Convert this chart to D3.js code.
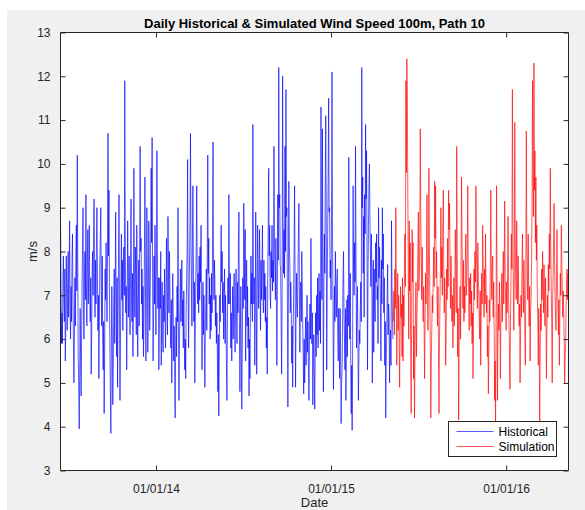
<!DOCTYPE html>
<html>
<head>
<meta charset="utf-8">
<script src="https://cdn.jsdelivr.net/npm/d3@7"></script>
<style>
  html, body { margin: 0; padding: 0; background: #ffffff; }
  svg { display: block; }
  text { font-family: "Liberation Sans", Arial, Helvetica, sans-serif; }
</style>
</head>
<body>
<script>
// Daily wind speed at 100 m, path 10 (m/s)
const histStart = "2013-06-16";
const historical = [
8.8,7.4,5.9,6.6,5.9,7.3,7.9,6.8,6.4,7.6,5.5,6.3,7.9,7.0,6.2,7.2,8.0,6.5,7.4,8.7,6.6,
6.0,7.2,6.4,7.8,8.4,6.9,5.9,5.0,6.1,7.4,6.3,7.9,8.6,7.1,10.2,7.6,5.6,4.9,3.95,5.2,6.7,
5.5,4.7,6.0,7.3,8.2,9.0,6.6,6.0,7.4,8.0,6.9,9.3,7.2,6.3,7.8,8.5,6.8,7.6,8.6,7.1,6.4,
7.4,5.2,6.1,7.6,8.0,7.0,8.4,9.2,7.2,6.5,7.8,6.8,8.3,9.0,7.5,6.2,7.0,5.1,6.4,7.7,8.3,
9.0,7.1,6.3,7.9,6.0,5.3,6.4,4.3,5.6,7.6,6.9,8.2,7.3,6.4,8.0,10.7,7.9,9.4,7.2,5.8,4.7,
3.85,5.8,7.2,6.1,4.5,5.4,6.8,7.6,5.9,7.1,8.9,6.8,5.6,7.4,4.9,6.5,8.0,9.3,6.7,4.6,6.0,
7.3,8.4,6.9,7.8,6.2,7.5,8.1,7.0,11.9,8.4,6.6,7.2,5.3,6.8,8.7,7.4,6.5,7.9,7.0,6.1,7.6,
9.2,7.0,6.4,7.5,5.6,6.6,9.9,7.2,6.5,8.1,7.3,6.1,8.6,7.0,5.6,6.9,7.8,6.3,8.3,10.4,8.0,
8.3,6.8,7.6,6.0,7.2,5.6,6.4,8.0,9.7,7.4,5.5,6.9,9.0,7.6,5.7,6.6,8.7,7.9,6.2,7.1,8.4,
9.9,8.2,10.6,7.4,5.5,6.5,7.9,6.8,8.6,7.2,6.1,7.7,10.3,8.0,6.7,7.4,5.3,6.2,7.4,6.7,8.0,
5.4,6.6,7.3,6.0,5.7,7.0,6.4,7.6,6.5,5.8,7.2,8.3,6.9,6.1,8.8,7.7,6.6,8.0,7.3,6.2,5.8,
6.9,5.0,6.2,7.5,6.6,5.5,6.3,5.2,4.2,5.8,6.5,5.6,7.2,6.4,9.0,6.0,4.6,5.9,6.8,7.6,6.4,
7.0,7.8,6.3,6.9,5.8,7.1,6.2,5.3,6.0,5.1,6.7,7.4,8.0,10.1,7.2,5.8,6.9,7.8,8.7,10.7,8.2,
7.1,6.3,8.2,9.5,7.8,6.4,7.3,5.0,6.4,7.2,8.1,9.5,7.6,6.8,7.5,6.6,7.9,6.9,8.1,7.3,8.6,
6.7,5.3,6.4,7.3,6.1,7.0,5.8,4.9,6.3,6.9,7.6,6.2,8.1,10.2,7.5,8.3,6.8,7.4,6.0,7.0,6.2,
7.5,6.6,8.3,10.5,7.6,6.9,7.8,7.2,6.3,7.0,5.9,6.6,5.6,4.8,6.1,4.25,5.7,7.0,6.4,7.7,8.6,
7.3,8.0,6.6,7.3,6.0,6.8,7.6,5.9,7.0,6.2,5.4,4.6,6.5,7.4,6.8,9.3,7.7,6.8,7.5,5.8,6.6,
5.5,6.4,7.2,6.0,6.9,7.5,6.2,5.7,6.8,7.6,6.5,5.9,7.3,6.6,8.2,8.9,6.4,4.8,6.2,7.2,5.6,
4.4,5.9,7.4,6.7,9.1,8.2,6.9,8.5,5.5,6.8,7.8,6.3,7.2,5.8,6.5,4.7,6.0,5.1,6.9,7.9,6.8,
7.5,6.4,10.9,7.7,6.8,7.4,5.4,6.6,8.9,7.0,5.2,6.9,8.6,7.6,6.7,7.4,8.5,7.1,6.2,7.8,6.9,
7.6,8.6,7.0,6.6,7.8,6.9,7.5,6.4,7.2,5.8,6.5,5.2,7.4,8.6,9.9,7.9,8.6,7.0,6.7,8.0,7.4,
8.6,7.1,7.8,7.3,10.4,8.2,7.6,6.9,8.3,7.0,5.4,6.8,9.3,7.8,12.2,9.0,9.3,7.7,7.6,6.3,5.2,
7.0,12.0,8.7,7.5,8.5,7.4,10.4,8.0,11.7,8.8,9.0,6.9,4.45,6.8,9.6,8.1,7.8,6.6,7.3,6.8,5.45,
6.3,4.9,6.2,7.0,8.1,9.5,7.4,4.9,6.5,7.5,6.8,6.5,7.6,8.4,9.1,7.2,5.7,6.9,7.3,6.4,8.0,
7.2,6.3,5.6,4.75,6.0,5.0,5.8,6.5,5.4,6.2,7.0,5.7,6.4,5.2,4.6,5.9,6.8,6.0,8.3,7.1,5.9,
6.6,4.5,5.6,6.1,5.2,4.4,5.8,6.6,5.6,7.0,6.1,7.4,5.8,6.7,7.5,6.2,7.1,5.9,11.3,8.2,6.9,
10.8,7.6,4.8,6.9,8.4,7.5,9.6,11.1,8.7,5.3,7.2,8.5,9.7,11.5,8.9,9.0,7.4,7.8,6.9,8.8,12.1,
8.5,6.8,4.85,6.0,7.2,6.4,8.0,7.0,6.5,7.3,7.6,6.1,5.5,6.7,6.0,5.1,6.7,5.6,4.07,5.0,5.3,
6.2,7.4,8.0,6.6,6.0,5.3,6.7,4.6,5.8,6.9,5.6,7.0,6.3,10.15,7.8,6.0,7.5,5.6,4.3,5.4,3.92,
5.8,9.5,7.6,7.0,8.2,7.3,10.4,8.0,5.8,6.5,7.2,6.0,4.6,5.5,6.2,5.9,6.7,7.3,6.4,12.2,9.0,
9.7,7.5,8.8,6.5,9.3,8.4,10.9,9.2,10.3,8.0,5.3,7.4,8.6,9.5,10.0,8.8,8.0,7.2,8.4,7.6,5.0,
6.5,7.8,5.7,7.6,6.8,6.4,8.2,7.3,8.4,6.9,7.2,5.9,9.0,7.4,8.1,7.5,6.6,5.5,7.8,6.8,9.0,
7.6,8.4,6.6,7.4,5.4,6.4,4.2,5.5,6.0,7.0,7.7,6.1,6.8,6.5,5.0,5.9,6.2,5.4,8.7,7.2,6.5,6.0
];
const simulation = [
6.4,7.1,6.1,7.6,6.7,9.0,7.3,5.4,6.8,7.5,6.2,7.0,5.8,4.9,6.3,7.2,6.5,6.8,5.6,7.4,5.5,
7.0,6.3,7.7,8.4,7.2,11.9,9.8,12.4,11.6,9.4,7.5,6.0,8.7,7.1,8.2,5.6,4.3,6.4,8.5,7.3,8.2,
5.1,6.3,4.2,5.8,6.6,7.3,5.6,6.5,7.0,8.0,8.9,7.1,7.5,8.3,10.8,8.8,7.8,6.9,8.1,7.2,6.4,
7.2,6.3,5.1,6.4,7.5,6.8,8.0,9.3,7.3,6.2,7.4,9.9,8.1,6.9,5.8,4.2,5.5,6.2,7.0,6.6,7.4,
8.1,7.2,9.6,8.3,9.5,7.4,8.0,6.9,6.3,7.2,5.7,4.3,5.9,6.8,7.6,9.0,7.4,8.1,7.0,8.6,9.4,
7.8,6.6,7.4,6.8,5.4,6.2,7.6,6.9,8.3,7.2,9.4,8.5,9.1,7.7,6.7,7.9,7.2,6.4,7.0,5.8,6.5,
7.4,6.3,7.0,8.5,7.6,6.6,10.4,7.9,5.6,6.7,4.15,5.8,6.5,7.2,6.0,7.6,9.7,8.4,7.3,6.7,7.8,
6.4,7.2,6.6,7.8,8.4,7.0,7.3,8.0,9.5,7.6,7.0,6.2,7.4,6.8,7.5,6.3,7.1,5.9,6.6,5.1,6.4,
7.6,6.9,8.0,7.3,9.5,8.1,7.5,6.7,8.2,7.4,7.0,6.4,6.0,7.1,5.4,6.5,7.5,6.8,8.6,7.8,7.2,
6.5,7.6,6.8,8.4,7.3,6.6,7.0,5.6,6.3,4.75,5.8,6.9,6.4,7.5,9.4,7.7,6.9,7.6,7.9,6.5,7.3,
6.2,4.6,5.5,4.07,6.4,9.5,7.2,4.6,6.0,6.8,6.2,7.3,6.6,5.1,6.3,6.8,7.5,6.4,7.0,8.0,6.8,
7.6,9.15,7.4,6.8,6.2,7.3,6.6,7.5,8.8,7.0,6.3,5.7,4.85,6.4,7.3,8.4,7.6,11.7,8.9,7.2,6.2,
7.4,10.95,8.3,7.3,6.9,8.7,7.6,6.8,7.9,7.1,6.3,6.8,5.0,6.1,7.0,6.5,7.6,8.4,7.2,6.6,7.8,
7.1,6.2,5.4,7.3,10.75,8.2,7.5,6.9,8.4,7.0,6.3,7.2,5.5,6.6,6.9,7.8,9.0,11.9,9.6,8.8,12.3,
9.4,10.3,8.2,9.7,7.8,8.6,7.0,6.4,5.4,6.7,5.9,4.1,5.6,6.8,6.2,7.6,6.9,8.0,7.3,6.6,7.7,
6.9,6.3,7.4,6.6,5.1,6.2,7.0,6.5,7.7,7.1,8.4,7.6,9.9,8.1,7.2,6.4,5.0,6.8,7.5,8.3,9.1,
7.8,7.0,6.5,6.2,7.4,8.5,7.3,6.8,6.1,6.9,5.4,6.6,7.5,7.0,8.6,7.8,7.2,6.5,7.1,6.6,6.0,
5.0,5.6,5.8,6.7,7.2,7.6,6.9,7.5,7.0
];
const seriesNames = ["Historical", "Simulation"];
const seriesColors = ["#0000ff", "#ff0000"];
const xDomain = ["2013-06-16", "2016-05-10"];
const xTickDates = ["2014-01-01", "2015-01-01", "2016-01-01"];
const yTicks = [3, 4, 5, 6, 7, 8, 9, 10, 11, 12, 13];
const titleText = "Daily Historical & Simulated Wind Speed 100m, Path 10";

const W = 585, H = 510;
const plot = { left: 60.5, right: 568.5, top: 32.5, bottom: 470.5 };
const parse = d3.utcParse("%Y-%m-%d");
const start = parse(histStart);

const histData = historical.map((v, i) => ({ date: d3.utcDay.offset(start, i), value: v }));
const simStart = d3.utcDay.offset(start, historical.length);
const simData = simulation.map((v, i) => ({ date: d3.utcDay.offset(simStart, i), value: v }));

const x = d3.scaleUtc().domain(xDomain.map(parse)).range([plot.left, plot.right]);
const y = d3.scaleLinear().domain([3, 13]).range([plot.bottom, plot.top]);

const svg = d3.select("body").append("svg").attr("width", W).attr("height", H);

// figure background
svg.append("rect").attr("x", 7).attr("y", 10).attr("width", W - 7).attr("height", H - 10)
  .attr("fill", "#f0f0f0");
// axes background
svg.append("rect").attr("x", plot.left).attr("y", plot.top)
  .attr("width", plot.right - plot.left).attr("height", plot.bottom - plot.top)
  .attr("fill", "#ffffff");

svg.append("clipPath").attr("id", "plotclip").append("rect")
  .attr("x", plot.left).attr("y", plot.top)
  .attr("width", plot.right - plot.left).attr("height", plot.bottom - plot.top);

const line = d3.line().x(d => x(d.date)).y(d => y(d.value));
const g = svg.append("g").attr("clip-path", "url(#plotclip)");
[histData, simData].forEach((data, k) => {
  g.append("path").datum(data).attr("d", line)
    .attr("fill", "none").attr("stroke", seriesColors[k])
    .attr("stroke-width", 0.65).attr("stroke-linejoin", "round");
});

// axes with inward ticks on all four sides
const axisColor = "#262626";
const tickLen = 5;
const fmt = d3.utcFormat("%m/%d/%y");
const xAxisB = d3.axisBottom(x).tickValues(xTickDates.map(parse)).tickSize(-tickLen).tickPadding(14).tickFormat(fmt);
const xAxisT = d3.axisTop(x).tickValues(xTickDates.map(parse)).tickSize(-tickLen).tickFormat("");
const yAxisL = d3.axisLeft(y).tickValues(yTicks).tickSize(-tickLen).tickPadding(10).tickFormat(d3.format("d"));
const yAxisR = d3.axisRight(y).tickValues(yTicks).tickSize(-tickLen).tickFormat("");

function styleAxis(sel) {
  sel.selectAll(".domain").attr("stroke", axisColor).attr("stroke-width", 1);
  sel.selectAll(".tick line").attr("stroke", axisColor).attr("stroke-width", 1);
  sel.selectAll(".tick text").attr("fill", "#262626").style("font-size", "12px")
    .style("font-family", "'Liberation Sans', Arial, sans-serif");
}
const gxb = svg.append("g").attr("transform", `translate(0,${plot.bottom})`).call(xAxisB);
gxb.select(".domain").attr("d", `M${plot.left},0H${plot.right}`);
styleAxis(gxb);
const gxt = svg.append("g").attr("transform", `translate(0,${plot.top})`).call(xAxisT);
gxt.select(".domain").attr("d", `M${plot.left},0H${plot.right}`);
styleAxis(gxt);
const gyl = svg.append("g").attr("transform", `translate(${plot.left},0)`).call(yAxisL);
gyl.select(".domain").attr("d", `M0,${plot.top}V${plot.bottom}`);
styleAxis(gyl);
const gyr = svg.append("g").attr("transform", `translate(${plot.right},0)`).call(yAxisR);
gyr.select(".domain").attr("d", `M0,${plot.top}V${plot.bottom}`);
styleAxis(gyr);

// title and axis labels
svg.append("text").attr("x", (plot.left + plot.right) / 2).attr("y", 28)
  .attr("text-anchor", "middle").attr("font-weight", "bold").attr("font-size", 13)
  .attr("fill", "#000").text(titleText);
svg.append("text").attr("x", (plot.left + plot.right) / 2).attr("y", 507)
  .attr("text-anchor", "middle").attr("font-size", 13).attr("fill", "#262626").text("Date");
svg.append("text").attr("transform", `translate(37,${(plot.top + plot.bottom) / 2}) rotate(-90)`)
  .attr("text-anchor", "middle").attr("font-size", 13).attr("fill", "#262626").text("m/s");

// legend
const lg = svg.append("g").attr("transform", "translate(448.5,421.5)");
lg.append("rect").attr("width", 108).attr("height", 35)
  .attr("fill", "#ffffff").attr("stroke", axisColor).attr("stroke-width", 1);
seriesNames.forEach((name, k) => {
  const yy = 10 + k * 15;
  lg.append("line").attr("x1", 8).attr("x2", 45).attr("y1", yy).attr("y2", yy)
    .attr("stroke", seriesColors[k]).attr("stroke-width", 0.65);
  lg.append("text").attr("x", 50).attr("y", yy + 4).attr("font-size", 12)
    .attr("fill", "#000").text(name);
});
</script>
</body>
</html>
